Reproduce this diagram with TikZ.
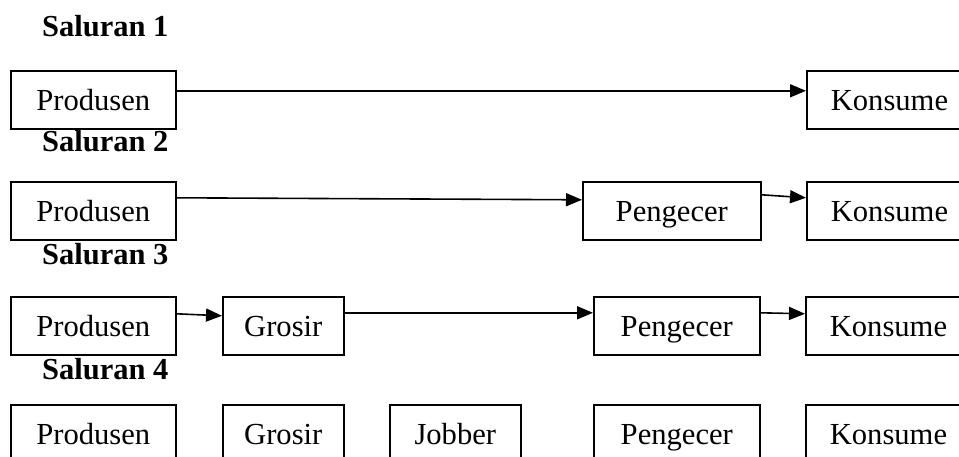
\documentclass[tikz,border=0pt]{standalone}
\usepackage{fontspec}
\setmainfont{Liberation Serif}
\usetikzlibrary{arrows.meta}
\begin{document}
\begin{tikzpicture}[x=1pt,y=-1pt,
  box/.style={draw,line width=1.6pt,anchor=north west,minimum height=58pt,inner sep=0pt,
    text height=25pt,text depth=3pt,font=\fontsize{30.6}{32}\selectfont},
  kbox/.style={box,minimum width=175pt,text width=127pt,align=left,inner xsep=24pt},
  heading/.style={anchor=base west,inner sep=0pt,font=\fontsize{30.5}{32}\selectfont\bfseries},
  conn/.style={line width=1.6pt,-{Triangle[length=16pt,width=13pt]}}]
\useasboundingbox (0,0) rectangle (959,457);
\clip (0,0) rectangle (959,457);
% headings
\node[heading] (h1) at (42,37) {Saluran 1};
\node[heading] (h2) at (42,152) {Saluran 2};
\node[heading] (h3) at (42,265) {Saluran 3};
\node[heading] (h4) at (42,379) {Saluran 4};
% row 1
\node[box,minimum width=165pt] (p1) at (10,70) {Produsen};
\node[kbox] (k1) at (806,70) {Konsume};
\draw[conn] ([yshift=9pt]p1.east) -- ([yshift=9pt]k1.west);
% row 2
\node[box,minimum width=165pt] (p2) at (10,181) {Produsen};
\node[box,minimum width=178pt] (e2) at (582,181) {Pengecer};
\node[kbox] (k2) at (806,181) {Konsume};
\draw[conn] ([yshift=13pt]p2.east) -- ([yshift=11pt]e2.west);
\draw[conn] ([yshift=16pt]e2.east) -- ([yshift=13pt]k2.west);
% row 3
\node[box,minimum width=165pt] (p3) at (10,296) {Produsen};
\node[box,minimum width=121pt] (g3) at (222,296) {Grosir};
\node[box,minimum width=166pt] (e3) at (593,296) {Pengecer};
\node[kbox] (k3) at (805,296) {Konsume};
\draw[conn] ([yshift=12pt]p3.east) -- ([yshift=10pt]g3.west);
\draw[conn] ([yshift=13pt]g3.east) -- ([yshift=13pt]e3.west);
\draw[conn] ([yshift=13pt]e3.east) -- ([yshift=12pt]k3.west);
% row 4
\node[box,minimum width=165pt] (p4) at (10,404) {Produsen};
\node[box,minimum width=121pt] (g4) at (222,404) {Grosir};
\node[box,minimum width=131pt] (j4) at (389,404) {Jobber};
\node[box,minimum width=166pt] (e4) at (593,404) {Pengecer};
\node[kbox] (k4) at (805,404) {Konsume};
\end{tikzpicture}
\end{document}
